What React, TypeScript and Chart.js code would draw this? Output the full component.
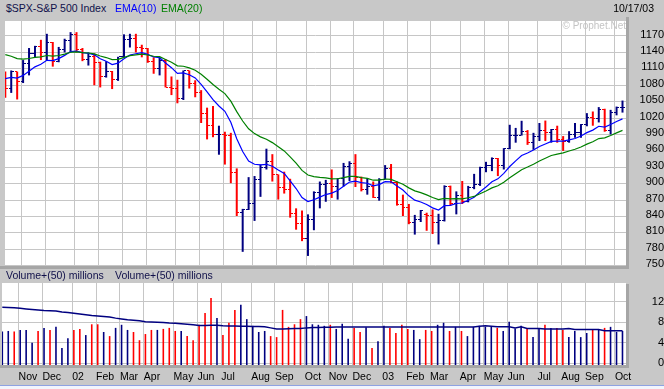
import React, { useEffect, useRef } from 'react';
import { Chart, registerables } from 'chart.js';

Chart.register(...registerables);

// Weekly bars: index 0 = week of 15 Oct 2001 ... index 104 = week of 13 Oct 2003
const OPEN = [
  1091.7, 1073.5, 1104.6, 1087.2, 1120.3, 1138.7, 1150.3, 1139.5, 1158.3, 1123.1,
  1144.9, 1161.0, 1172.5, 1145.6, 1127.6, 1133.3, 1122.2, 1096.2, 1104.2, 1089.8,
  1131.8, 1164.3, 1166.2, 1148.7, 1147.4, 1122.7, 1111.0, 1125.2, 1076.3, 1073.4,
  1055.0, 1106.6, 1083.8, 1067.1, 1027.5, 1007.3, 989.1, 989.8, 989.0, 921.4,
  847.8, 852.8, 864.2, 908.6, 928.8, 940.9, 916.1, 893.9, 889.8, 845.4,
  827.4, 800.6, 835.3, 884.4, 897.7, 901.0, 894.7, 909.8, 930.6, 936.3,
  912.2, 889.5, 895.8, 875.4, 908.6, 927.6, 901.8, 861.4, 855.7, 829.7,
  834.9, 843.0, 841.2, 828.9, 833.3, 895.8, 863.5, 878.9, 868.3, 893.6,
  898.8, 930.1, 933.4, 946.7, 933.2, 963.6, 987.8, 988.6, 995.7, 976.2,
  985.7, 998.1, 993.3, 998.7, 980.2, 977.6, 990.7, 993.1, 1008.0, 1021.4,
  1018.6, 1036.3, 996.9, 1029.9, 1038.7,
];
const HIGH = [
  1105, 1107, 1105, 1126, 1148, 1152, 1163, 1174, 1159, 1150,
  1165, 1177, 1177, 1148, 1140, 1138, 1123, 1124, 1106, 1132,
  1173, 1174, 1174, 1154, 1148, 1131, 1131, 1128, 1096, 1090,
  1107, 1107, 1089, 1071, 1039, 1042, 1006, 995, 993, 928,
  854, 912, 914, 935, 964, 954, 917, 922, 909, 855,
  851, 844, 886, 904, 907, 926, 910, 938, 941, 954,
  913, 910, 904, 910, 934, 936, 904, 880, 863, 843,
  852, 847, 853, 845, 897, 896.5, 886, 905, 896, 918,
  931, 940, 948, 947, 965, 1007.7, 1002, 1015, 998, 993,
  1011, 1015.4, 1000, 1006, 987, 996, 1011, 1009, 1029, 1032,
  1040, 1037, 1035, 1041, 1052,
];
const LOW = [
  1057, 1066, 1054, 1084, 1098, 1130, 1126, 1125, 1114, 1122,
  1140, 1140, 1140, 1124, 1116, 1080, 1076, 1094, 1073, 1088,
  1131, 1149, 1140, 1131, 1121, 1101, 1098, 1076, 1062, 1047,
  1053, 1074, 1058, 1011, 981, 985, 953, 935, 901, 841,
  775.5, 852, 832, 876, 926, 904, 871, 882, 838, 816,
  795, 768, 815, 855, 867, 874, 871, 895, 905, 894,
  886, 880, 874, 869, 908, 901, 860, 841, 826, 807,
  830, 814, 808, 789, 831, 860, 844, 863, 866, 890,
  896, 921, 923, 914, 926, 963, 975, 988, 971, 962,
  978, 978, 975, 975, 960, 975, 984, 984, 1005, 1006,
  1012, 995, 990, 1025, 1030,
];
const CLOSE = [
  1073.5, 1104.6, 1087.2, 1120.3, 1138.7, 1150.3, 1139.5, 1158.3, 1123.1, 1144.9,
  1161.0, 1172.5, 1145.6, 1127.6, 1133.3, 1122.2, 1096.2, 1104.2, 1089.8, 1131.8,
  1164.3, 1166.2, 1148.7, 1147.4, 1122.7, 1111.0, 1125.2, 1076.3, 1073.4, 1055.0,
  1106.6, 1083.8, 1067.1, 1027.5, 1007.3, 989.1, 989.8, 989.0, 921.4, 847.8,
  852.8, 864.2, 908.6, 928.8, 940.9, 916.1, 893.9, 889.8, 845.4, 827.4,
  800.6, 835.3, 884.4, 897.7, 901.0, 894.7, 909.8, 930.6, 936.3, 912.2,
  889.5, 895.8, 875.4, 908.6, 927.6, 901.8, 861.4, 855.7, 829.7, 834.9,
  851.2, 841.2, 828.9, 833.3, 895.8, 863.5, 878.9, 868.3, 893.6, 898.8,
  930.1, 933.4, 946.7, 933.2, 963.6, 987.8, 988.6, 995.7, 976.2, 985.7,
  998.1, 993.3, 998.7, 980.2, 977.6, 990.7, 993.1, 1008.0, 1021.4, 1018.6,
  1036.3, 996.9, 1029.9, 1038.7, 1039.3,
];
const EMA10 = [
  1092.0, 1094.3, 1093.0, 1098.0, 1105.4, 1113.6, 1118.3, 1125.6, 1125.1, 1128.7,
  1134.6, 1141.5, 1142.2, 1139.6, 1138.4, 1135.5, 1128.3, 1123.9, 1117.7, 1120.3,
  1128.3, 1135.2, 1137.6, 1139.4, 1136.4, 1131.7, 1130.6, 1120.7, 1112.1, 1101.7,
  1102.6, 1099.2, 1093.4, 1081.4, 1067.9, 1053.6, 1042.0, 1032.4, 1012.2, 982.3,
  958.8, 941.6, 935.6, 934.3, 935.5, 932.0, 925.1, 918.7, 905.3, 891.2,
  874.7, 867.5, 870.6, 875.5, 880.2, 882.8, 887.7, 895.5, 902.9, 904.6,
  901.9, 900.8, 896.2, 898.4, 903.7, 903.4, 895.7, 888.5, 877.8, 870.0,
  866.6, 861.9, 855.9, 851.8, 859.8, 860.5, 863.8, 864.7, 869.9, 875.2,
  885.2, 893.9, 903.5, 908.9, 918.9, 931.4, 941.8, 951.6, 956.1, 961.5,
  968.1, 972.7, 977.4, 977.9, 977.9, 980.2, 982.6, 987.2, 993.4, 998.0,
  1005.0, 1003.5, 1008.3, 1013.8, 1018.5,
];
const EMA20 = [
  1136.0, 1133.0, 1128.6, 1127.8, 1128.9, 1130.9, 1131.7, 1134.3, 1133.2, 1134.3,
  1136.9, 1140.3, 1140.8, 1139.5, 1138.9, 1137.3, 1133.4, 1130.6, 1126.7, 1127.2,
  1130.8, 1134.1, 1135.5, 1136.7, 1135.3, 1133.0, 1132.3, 1126.9, 1121.9, 1115.5,
  1114.7, 1111.7, 1107.5, 1099.9, 1091.0, 1081.3, 1072.6, 1064.7, 1051.0, 1031.7,
  1014.6, 1000.3, 991.6, 985.6, 981.3, 975.1, 967.4, 960.0, 949.1, 937.5,
  924.4, 916.0, 913.0, 911.5, 910.5, 909.0, 909.1, 911.1, 913.5, 913.4,
  911.1, 909.7, 906.4, 906.6, 908.6, 908.0, 903.6, 899.0, 892.4, 887.0,
  883.6, 879.5, 874.7, 870.8, 873.1, 872.2, 872.9, 872.4, 874.4, 876.7,
  881.8, 886.7, 892.4, 896.3, 902.7, 910.8, 918.2, 925.6, 930.4, 935.7,
  941.6, 946.5, 951.5, 954.2, 956.4, 959.7, 962.9, 967.2, 972.4, 976.8,
  982.5, 983.8, 988.2, 993.0, 997.4,
];
// Volume in millions (scale as drawn), and its 50-week average
const VOLUME = [
  6.2, 6.3, 6.2, 6.5, 6.5, 4.0, 6.3, 6.9, 6.5, 7.1,
  3.0, 4.9, 6.5, 6.7, 5.5, 7.6, 7.6, 6.1, 5.3, 6.9,
  7.5, 6.5, 6.1, 4.5, 5.7, 6.5, 6.5, 6.7, 6.9, 6.3,
  6.3, 5.3, 4.5, 7.5, 9.8, 12.7, 8.8, 5.5, 7.9, 10.4,
  11.4, 8.6, 7.3, 6.1, 6.3, 5.3, 5.1, 10.4, 7.1, 7.6,
  8.6, 9.2, 7.6, 7.5, 7.3, 7.5, 6.7, 7.7, 4.8, 6.9,
  6.1, 7.0, 3.0, 4.3, 7.3, 6.9, 5.9, 7.5, 6.7, 6.5,
  4.7, 6.5, 6.3, 7.5, 7.9, 6.3, 7.1, 6.3, 5.3, 7.1,
  7.3, 7.1, 7.1, 6.9, 6.3, 8.1, 6.8, 7.3, 6.7, 5.1,
  6.9, 7.5, 6.9, 6.9, 6.5, 5.1, 6.3, 5.1, 5.9, 6.5,
  6.5, 6.9, 7.1, 6.1, 6.3,
];
const VOLUME_AVG = [
  10.9, 10.85, 10.8, 10.7, 10.6, 10.5, 10.4, 10.3, 10.25, 10.2,
  10.0, 9.9, 9.75, 9.6, 9.45, 9.3, 9.2, 9.1, 9.0, 8.8,
  8.65, 8.5, 8.4, 8.3, 8.1, 8.05, 8.0, 7.95, 7.85, 7.8,
  7.7, 7.6, 7.5, 7.35, 7.35, 7.4, 7.4, 7.3, 7.25, 7.25,
  7.2, 7.2, 7.15, 7.15, 7.1, 6.9, 6.7, 6.7, 6.75, 6.8,
  6.8, 6.9, 6.95, 6.95, 7.0, 7.0, 7.05, 7.05, 7.05, 7.05,
  7.05, 7.05, 7.05, 7.05, 7.05, 7.05, 7.05, 7.05, 7.05, 7.05,
  7.05, 7.05, 7.05, 7.05, 7.05, 7.05, 7.05, 7.05, 7.05, 7.05,
  7.2, 7.3, 7.2, 7.1, 7.1, 7.1, 6.9, 7.1, 6.8, 6.8,
  6.8, 6.7, 6.7, 6.7, 6.7, 6.8, 6.6, 6.6, 6.6, 6.6,
  6.6, 6.35, 6.35, 6.35, 6.35,
];
// Week index of the first Monday of each month, and the month labels
const MONTH_WEEK = [3, 7, 12, 16, 20, 24, 29, 33, 37, 42, 46, 51, 55, 59, 64, 68, 72, 77, 81, 85, 90, 94, 98, 103];
const MONTH_LABELS = ['Nov', 'Dec', '02', 'Feb', 'Mar', 'Apr', 'May', 'Jun', 'Jul', 'Aug', 'Sep', 'Oct',
  'Nov', 'Dec', '03', 'Feb', 'Mar', 'Apr', 'May', 'Jun', 'Jul', 'Aug', 'Sep', 'Oct'];
const PRICE_TICKS = [750, 780, 810, 840, 870, 900, 930, 960, 990, 1020, 1050, 1080, 1110, 1140, 1170];
const VOLUME_TICKS = [0, 4, 8, 12];

const FONT = "'Liberation Sans', Arial, Helvetica, sans-serif";
const NAVY = '#000080';
const RED = '#ff0000';
const EMA_BLUE = '#0000ff';
const EMA_GREEN = '#008000';
const GRID = '#c6c6c6';
const PANEL = '#c8c8c8';
const EDGE = '#a6a6a6';
const TITLE = '#10104a';

const X_MIN = -0.05;
const X_MAX = 104.59;
const GRID_SHIFT = 0.27;
const P_MIN = 749.6;
const P_MAX = 1197.4;
const V_MIN = -0.33;
const V_MAX = 15.64;

function tickImage(color: string, side: 'open' | 'close') {
  const c = document.createElement('canvas');
  c.width = 5;
  c.height = 1;
  const g = c.getContext('2d')!;
  g.fillStyle = color;
  g.fillRect(side === 'open' ? 0 : 3, 0, 2, 1);
  return c;
}

const plotBg = {
  id: 'plotBg',
  beforeDraw(chart: any) {
    const { ctx, chartArea: a } = chart;
    ctx.save();
    ctx.fillStyle = '#ffffff';
    ctx.fillRect(a.left, a.top, a.right - a.left, a.bottom - a.top);
    ctx.restore();
  },
  beforeDatasetsDraw(chart: any) {
    chart.ctx.imageSmoothingEnabled = false;
  },
};

function monthAxis(showLabels: boolean): any {
  return {
    type: 'linear',
    min: X_MIN,
    max: X_MAX,
    offset: false,
    bounds: 'data',
    grid: { color: GRID, lineWidth: 1, drawTicks: false, offset: false },
    border: { display: false },
    afterBuildTicks: (s: any) => {
      s.ticks = MONTH_WEEK.map((w) => ({ value: w - GRID_SHIFT }));
    },
    afterFit: (s: any) => {
      s.height = showLabels ? 24 : 0;
      s.paddingLeft = 0;
      s.paddingRight = 0;
    },
    ticks: showLabels
      ? {
          display: true,
          autoSkip: false,
          maxRotation: 0,
          minRotation: 0,
          align: 'start',
          padding: 6,
          color: '#000000',
          font: { family: FONT, size: 10.5 },
          callback: (_v: any, i: number) => MONTH_LABELS[i],
        }
      : { display: false },
  };
}

function valueAxis(min: number, max: number, ticks: number[], padding: number, labelOffset: number): any {
  return {
    type: 'linear',
    position: 'right',
    min,
    max,
    bounds: 'data',
    beginAtZero: false,
    grid: { color: GRID, lineWidth: 1, drawTicks: false },
    border: { display: false },
    afterBuildTicks: (s: any) => {
      s.ticks = ticks.map((v) => ({ value: v }));
    },
    afterFit: (s: any) => {
      s.width = 38;
      s.paddingTop = 0;
      s.paddingBottom = 0;
    },
    ticks: {
      color: '#000000',
      font: { family: FONT, size: 11 },
      padding,
      crossAlign: 'far',
      labelOffset,
      callback: (v: any) => String(v),
    },
  };
}

export default function App() {
  const priceRef = useRef<HTMLCanvasElement>(null);
  const volRef = useRef<HTMLCanvasElement>(null);

  useEffect(() => {
    Chart.defaults.font.family = FONT;
    const colors = CLOSE.map((c, i) => (c < (i > 0 ? CLOSE[i - 1] : OPEN[0]) ? RED : NAVY));
    const volColors = colors.map((c, i) => (i === 0 ? NAVY : c));
    const openImg = { [NAVY]: tickImage(NAVY, 'open'), [RED]: tickImage(RED, 'open') } as any;
    const closeImg = { [NAVY]: tickImage(NAVY, 'close'), [RED]: tickImage(RED, 'close') } as any;

    const common: any = {
      responsive: false,
      animation: false,
      devicePixelRatio: 1,
      events: [],
      plugins: { legend: { display: false }, tooltip: { enabled: false }, title: { display: false } },
    };

    const price = new Chart(priceRef.current!, {
      type: 'bar',
      data: {
        datasets: [
          {
            type: 'line',
            label: 'EMA(20)',
            data: EMA20.map((v, i) => ({ x: i, y: v })),
            borderColor: EMA_GREEN,
            borderWidth: 1.2,
            pointRadius: 0,
            tension: 0,
            order: 0,
          },
          {
            type: 'line',
            label: 'EMA(10)',
            data: EMA10.map((v, i) => ({ x: i, y: v })),
            borderColor: EMA_BLUE,
            borderWidth: 1.2,
            pointRadius: 0,
            tension: 0,
            order: 1,
          },
          {
            type: 'scatter',
            label: 'Open',
            data: OPEN.map((v, i) => ({ x: i, y: v })),
            pointStyle: colors.map((c) => openImg[c]),
            pointRadius: 3,
            order: 2,
          },
          {
            type: 'scatter',
            label: 'Close',
            data: CLOSE.map((v, i) => ({ x: i, y: v })),
            pointStyle: colors.map((c) => closeImg[c]),
            pointRadius: 3,
            order: 2,
          },
          {
            type: 'bar',
            label: 'High-Low',
            data: LOW.map((l, i) => ({ x: i, y: [l, HIGH[i]] })),
            backgroundColor: colors,
            borderWidth: 0,
            barThickness: 2,
            inflateAmount: 0,
            grouped: false,
            order: 3,
          },
        ] as any,
      },
      options: {
        ...common,
        layout: { padding: { left: 2, right: 0, top: 0, bottom: 8 } },
        scales: {
          x: monthAxis(false),
          y: valueAxis(P_MIN, P_MAX, PRICE_TICKS, 6, -1.5),
        },
      },
      plugins: [plotBg],
    } as any);

    const vol = new Chart(volRef.current!, {
      type: 'bar',
      data: {
        datasets: [
          {
            type: 'line',
            label: 'Volume average (50)',
            data: VOLUME_AVG.map((v, i) => ({ x: i, y: v })),
            borderColor: NAVY,
            borderWidth: 1.5,
            pointRadius: 0,
            tension: 0,
            order: 0,
          },
          {
            type: 'bar',
            label: 'Volume',
            data: VOLUME.map((v, i) => ({ x: i, y: v })),
            backgroundColor: volColors,
            borderWidth: 0,
            barThickness: 1.6,
            inflateAmount: 0,
            grouped: false,
            base: V_MIN,
            order: 1,
          },
        ] as any,
      },
      options: {
        ...common,
        layout: { padding: { left: 2, right: 0, top: 0, bottom: 0 } },
        scales: {
          x: monthAxis(true),
          y: valueAxis(V_MIN, V_MAX, VOLUME_TICKS, 7.5, 0),
        },
      },
      plugins: [plotBg],
    } as any);

    return () => {
      price.destroy();
      vol.destroy();
    };
  }, []);

  const txt: React.CSSProperties = {
    position: 'absolute',
    fontFamily: FONT,
    fontSize: '10.5px',
    lineHeight: '12px',
    whiteSpace: 'nowrap',
  };

  return (
    <div
      style={{
        position: 'fixed',
        left: 0,
        top: 0,
        width: 664,
        height: 389,
        background: PANEL,
        overflow: 'hidden',
      }}
    >
      <canvas
        ref={priceRef}
        width={664}
        height={258}
        style={{ position: 'absolute', left: 0, top: 16, width: 664, height: 258 }}
      />
      <canvas
        ref={volRef}
        width={664}
        height={106}
        style={{ position: 'absolute', left: 0, top: 283, width: 664, height: 106 }}
      />
      {/* panel edges */}
      <div style={{ position: 'absolute', left: 626, top: 17, width: 3, height: 252, background: EDGE }} />
      <div style={{ position: 'absolute', left: 0, top: 266, width: 629, height: 3, background: EDGE }} />
      <div style={{ position: 'absolute', left: 626, top: 284, width: 3, height: 84, background: EDGE }} />
      <div style={{ position: 'absolute', left: 0, top: 365, width: 629, height: 3, background: EDGE }} />
      <div style={{ position: 'absolute', left: 0, top: 385, width: 664, height: 1, background: '#8ea2e2' }} />
      <div style={{ position: 'absolute', left: 0, top: 386, width: 664, height: 3, background: '#f2f5fc' }} />

      <span style={{ ...txt, left: 6, top: 2, color: TITLE }}>{'$SPX-S&P 500 Index'}</span>
      <span style={{ ...txt, left: 115, top: 2, color: EMA_BLUE }}>EMA(10)</span>
      <span style={{ ...txt, left: 161, top: 2, color: EMA_GREEN }}>EMA(20)</span>
      <span style={{ ...txt, right: 10, top: 2, color: '#000000' }}>10/17/03</span>
      <span style={{ ...txt, right: 38, top: 19.5, fontSize: '10px', color: '#c4c4c4' }}>© Prophet.Net</span>
      <span style={{ ...txt, left: 6, top: 268.7, color: TITLE }}>Volume+(50) millions</span>
      <span style={{ ...txt, left: 115, top: 268.7, color: TITLE }}>Volume+(50) millions</span>
    </div>
  );
}
